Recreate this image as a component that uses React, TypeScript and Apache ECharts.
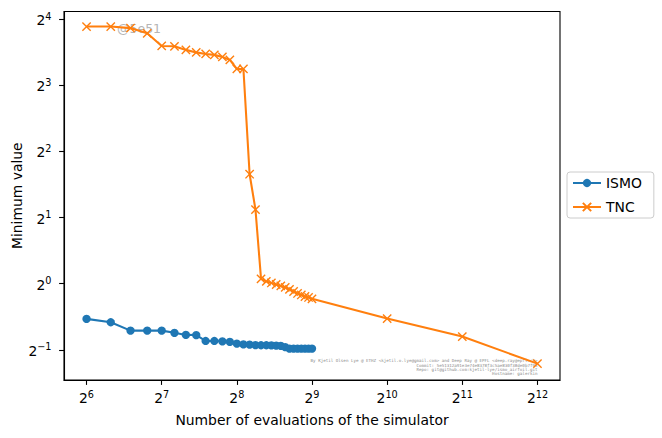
import React, { useEffect, useRef } from "react";
import * as echarts from "echarts";

const FONT = "DejaVu Sans";

const ismoEvaluations = [64, 80, 96, 112, 128, 144, 160, 176, 192, 208, 224, 240, 256, 272, 288, 304, 320, 336, 352, 368, 384, 400, 416, 432, 448, 464, 480, 496, 512];
const ismoMinimum = [0.692, 0.668, 0.612, 0.612, 0.612, 0.598, 0.585, 0.584, 0.549, 0.549, 0.547, 0.544, 0.534, 0.53, 0.528, 0.526, 0.525, 0.525, 0.524, 0.523, 0.522, 0.515, 0.507, 0.507, 0.507, 0.507, 0.507, 0.507, 0.507];

const tncEvaluations = [64, 80, 96, 112, 128, 144, 160, 176, 192, 208, 224, 240, 256, 272, 288, 304, 320, 336, 352, 368, 384, 400, 416, 432, 448, 464, 480, 496, 512, 1024, 2048, 4096];
const tncMinimum = [14.8, 14.8, 14.56, 13.79, 12.08, 12.03, 11.59, 11.29, 11.11, 11.0, 10.77, 10.43, 9.49, 9.49, 3.15, 2.175, 1.052, 1.025, 1.008, 0.992, 0.977, 0.962, 0.942, 0.922, 0.903, 0.889, 0.875, 0.866, 0.854, 0.694, 0.575, 0.433];

const xTickExponents = [6, 7, 8, 9, 10, 11, 12];
const yTickExponents = [-1, 0, 1, 2, 3, 4];

const seriesNames = ["ISMO", "TNC"];
const xAxisTitle = "Number of evaluations of the simulator";
const yAxisTitle = "Minimum value";
const watermark = "@5e51";
const creditLines = [
  "By Kjetil Olsen Lye @ ETHZ <kjetil.o.lye@gmail.com> and Deep Ray @ EPFL <deep.ray@epfl.ch>",
  "Commit: 5e51312a91e3e74e8378f3c5ae830f38de0b7f95",
  "Repo: git@github.com:kjetil-lye/ismo_airfoil.git",
  "Hostname: galerkin",
];

const toLog = (xs: number[], ys: number[]) => xs.map((x, i) => [Math.log2(x), Math.log2(ys[i])]);

const powLabel = (v: number) => {
  const n = Math.round(v);
  const s = n < 0 ? "\u2212" + Math.abs(n) : String(n);
  return `{b|2}{s|${s}}`;
};

const richStyle = {
  b: { fontSize: 13.9, fontFamily: FONT, color: "#000", lineHeight: 16, verticalAlign: "bottom" },
  s: { fontSize: 9.7, fontFamily: FONT, color: "#000", lineHeight: 10, padding: [0, 0, 9, 0], verticalAlign: "top" },
};

export default function App() {
  const ref = useRef<HTMLDivElement>(null);
  useEffect(() => {
    if (!ref.current) return;
    const chart = echarts.init(ref.current, null, { renderer: "svg" });
    const axisCommon = {
      type: "value",
      axisLine: { show: true, onZero: false, lineStyle: { color: "#000", width: 1.1 } },
      splitLine: { show: false },
      nameLocation: "middle",
      nameTextStyle: { fontSize: 13.9, fontFamily: FONT, color: "#000" },
    };
    chart.setOption({
      animation: false,
      backgroundColor: "#fff",
      textStyle: { fontFamily: FONT },
      grid: {
        left: 64,
        right: 102,
        top: 11.5,
        bottom: 58,
        show: true,
        borderColor: "#000",
        borderWidth: 1.1,
        containLabel: false,
        outerBoundsMode: "none",
      },
      xAxis: {
        ...axisCommon,
        min: 5.7,
        max: 12.3,
        name: xAxisTitle,
        nameGap: 30,
        axisTick: { show: true, length: 4.9, customValues: xTickExponents, lineStyle: { color: "#000", width: 1.1 } },
        axisLabel: { customValues: xTickExponents, margin: 9, formatter: powLabel, rich: richStyle },
      },
      yAxis: {
        ...axisCommon,
        min: -1.455,
        max: 4.115,
        name: yAxisTitle,
        nameGap: 40,
        nameMoveOverlap: false,
        axisTick: { show: true, length: 4.9, customValues: yTickExponents, lineStyle: { color: "#000", width: 1.1 } },
        axisLabel: { customValues: yTickExponents, margin: 12.5, formatter: powLabel, rich: richStyle },
      },
      legend: {
        data: seriesNames,
        orient: "vertical",
        left: 567,
        top: 172,
        itemWidth: 28,
        itemHeight: 10.4,
        itemGap: 8,
        padding: [3, 12, 3, 5],
        borderColor: "#cccccc",
        borderWidth: 1,
        borderRadius: 3,
        backgroundColor: "rgba(255,255,255,0.8)",
        textStyle: { fontSize: 13.9, fontFamily: FONT, color: "#000", lineHeight: 16 },
      },
      graphic: [
        {
          type: "text",
          x: 117,
          y: 21.5,
          z: 1,
          style: { text: watermark, fontSize: 12.5, fontFamily: FONT, fill: "#b5b5b5" },
        },
        {
          type: "text",
          x: 537.5,
          y: 358.5,
          z: 1,
          style: {
            text: creditLines.join("\n"),
            fontSize: 4.2,
            lineHeight: 4.4,
            fontFamily: "DejaVu Sans Mono",
            fill: "#8a8a8a",
            align: "right",
            verticalAlign: "top",
          },
        },
      ],
      series: [
        {
          type: "line",
          name: seriesNames[0],
          data: toLog(ismoEvaluations, ismoMinimum),
          symbol: "circle",
          symbolSize: 8.3,
          lineStyle: { color: "#1f77b4", width: 2.08 },
          itemStyle: { color: "#1f77b4" },
          z: 2,
        },
        {
          type: "line",
          name: seriesNames[1],
          data: toLog(tncEvaluations, tncMinimum),
          symbol: "path://M0,0L10,10M10,0L0,10",
          symbolSize: 8.3,
          lineStyle: { color: "#ff7f0e", width: 2.08 },
          itemStyle: { color: "#ff7f0e", borderColor: "#ff7f0e", borderWidth: 1.4 },
          z: 3,
        },
      ],
    });
    return () => chart.dispose();
  }, []);
  return (
    <div
      ref={ref}
      style={{ position: "absolute", left: 0, top: 0, width: 662, height: 438, background: "#fff" }}
    />
  );
}
